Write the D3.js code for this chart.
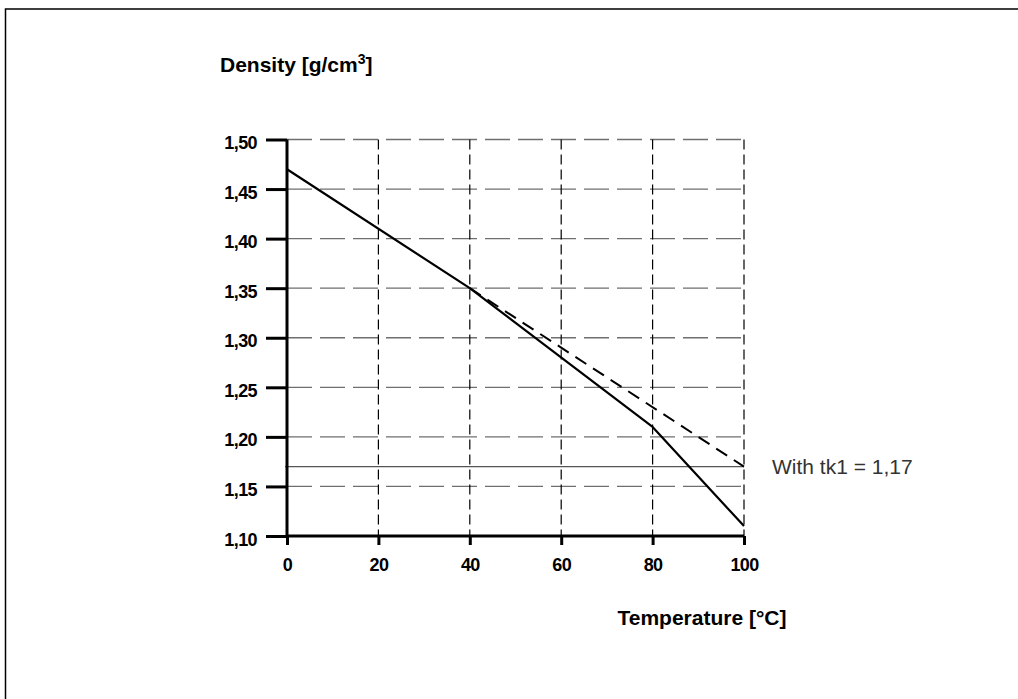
<!DOCTYPE html>
<html>
<head>
<meta charset="utf-8">
<script src="https://cdn.jsdelivr.net/npm/d3@7"></script>
<style>
  html, body { margin: 0; padding: 0; background: #fff; }
  svg { display: block; }
  text { font-family: "Liberation Sans", Arial, Helvetica, sans-serif; }
</style>
</head>
<body>
<svg id="chart" width="1018" height="699"></svg>
<script>
// Density of the liquid vs. temperature
const xTicks = [0, 20, 40, 60, 80, 100];
const yTicks = [1.10, 1.15, 1.20, 1.25, 1.30, 1.35, 1.40, 1.45, 1.50];

// Measured curve (solid)
const tempSolid = [0, 40, 80, 100];
const densitySolid = [1.47, 1.35, 1.21, 1.11];

// Linear continuation (dashed)
const tempDashed = [40, 100];
const densityDashed = [1.35, 1.17];

// Reference level
const tk1 = 1.17;
const tk1Label = "With tk1 = 1,17";

const svg = d3.select("#chart");

const x = d3.scaleLinear().domain([0, 100]).range([287, 744]);
const y = d3.scaleLinear().domain([1.10, 1.50]).range([536, 139.5]);

const locale = d3.formatLocale({ decimal: ",", thousands: ".", grouping: [3], currency: ["", ""] });
const fmt = locale.format(".2f");

// Outer frame (top and left edges)
svg.append("path")
  .attr("d", "M5.5,699 L5.5,9 L1018,9")
  .attr("fill", "none")
  .attr("stroke", "#000")
  .attr("stroke-width", 1.5);

// Horizontal grid
svg.append("g")
  .selectAll("line")
  .data(yTicks.filter(v => v > 1.10))
  .join("line")
  .attr("x1", x(0)).attr("x2", x(100))
  .attr("y1", d => y(d)).attr("y2", d => y(d))
  .attr("stroke", "#6f6f6f")
  .attr("stroke-width", 1.3)
  .attr("stroke-dasharray", "25,8");

// Vertical grid
svg.append("g")
  .selectAll("line")
  .data(xTicks.filter(v => v > 0))
  .join("line")
  .attr("x1", d => x(d)).attr("x2", d => x(d))
  .attr("y1", y(1.50)).attr("y2", y(1.10))
  .attr("stroke", "#000")
  .attr("stroke-width", 1.2)
  .attr("stroke-dasharray", "10,5");

// tk1 reference line
svg.append("line")
  .attr("x1", x(0) - 2).attr("x2", x(100))
  .attr("y1", y(tk1)).attr("y2", y(tk1))
  .attr("stroke", "#555")
  .attr("stroke-width", 1.2);

svg.append("text")
  .attr("x", 772).attr("y", y(tk1) + 7)
  .attr("font-size", 21)
  .attr("fill", "#333")
  .text(tk1Label);

// Axes
const yAxis = d3.axisLeft(y).tickValues(yTicks).tickSize(21).tickPadding(9).tickFormat(fmt);
const gy = svg.append("g").attr("transform", `translate(${x(0)},0)`).call(yAxis);
gy.select(".domain").remove();
gy.selectAll(".tick line").attr("stroke", "#000").attr("stroke-width", 3);
gy.selectAll(".tick text")
  .attr("font-size", 18).attr("font-weight", "bold").attr("fill", "#000")
  .attr("letter-spacing", "-0.6").attr("dy", "0.5em");

const xAxis = d3.axisBottom(x).tickValues(xTicks).tickSize(9).tickPadding(13).tickFormat(d3.format("d"));
const gx = svg.append("g").attr("transform", `translate(0,${y(1.10)})`).call(xAxis);
gx.select(".domain").remove();
gx.selectAll(".tick line").attr("stroke", "#000").attr("stroke-width", 3);
gx.selectAll(".tick text")
  .attr("font-size", 18).attr("font-weight", "bold").attr("fill", "#000")
  .attr("letter-spacing", "-0.6");

svg.append("line")
  .attr("x1", x(0)).attr("x2", x(0))
  .attr("y1", y(1.50)).attr("y2", y(1.10))
  .attr("stroke", "#000").attr("stroke-width", 3);
svg.append("line")
  .attr("x1", x(0)).attr("x2", x(100))
  .attr("y1", y(1.10)).attr("y2", y(1.10))
  .attr("stroke", "#000").attr("stroke-width", 3);

// Curves
const line = d3.line().x(d => x(d[0])).y(d => y(d[1]));

svg.append("path")
  .datum(tempDashed.map((t, i) => [t, densityDashed[i]]))
  .attr("d", line)
  .attr("fill", "none")
  .attr("stroke", "#000")
  .attr("stroke-width", 2)
  .attr("stroke-dasharray", "13,8");

svg.append("path")
  .datum(tempSolid.map((t, i) => [t, densitySolid[i]]))
  .attr("d", line)
  .attr("fill", "none")
  .attr("stroke", "#000")
  .attr("stroke-width", 2.2)
  .attr("stroke-linejoin", "round");

// Axis titles
const yTitle = svg.append("text")
  .attr("x", 220).attr("y", 72)
  .attr("font-size", 21).attr("font-weight", "bold").attr("fill", "#000");
yTitle.append("tspan").text("Density [g/cm");
yTitle.append("tspan").attr("dy", -8).attr("font-size", 14).text("3");
yTitle.append("tspan").attr("dy", 8).text("]");

svg.append("text")
  .attr("x", 702).attr("y", 625)
  .attr("text-anchor", "middle")
  .attr("font-size", 21).attr("font-weight", "bold").attr("fill", "#000")
  .text("Temperature [°C]");
</script>
</body>
</html>
